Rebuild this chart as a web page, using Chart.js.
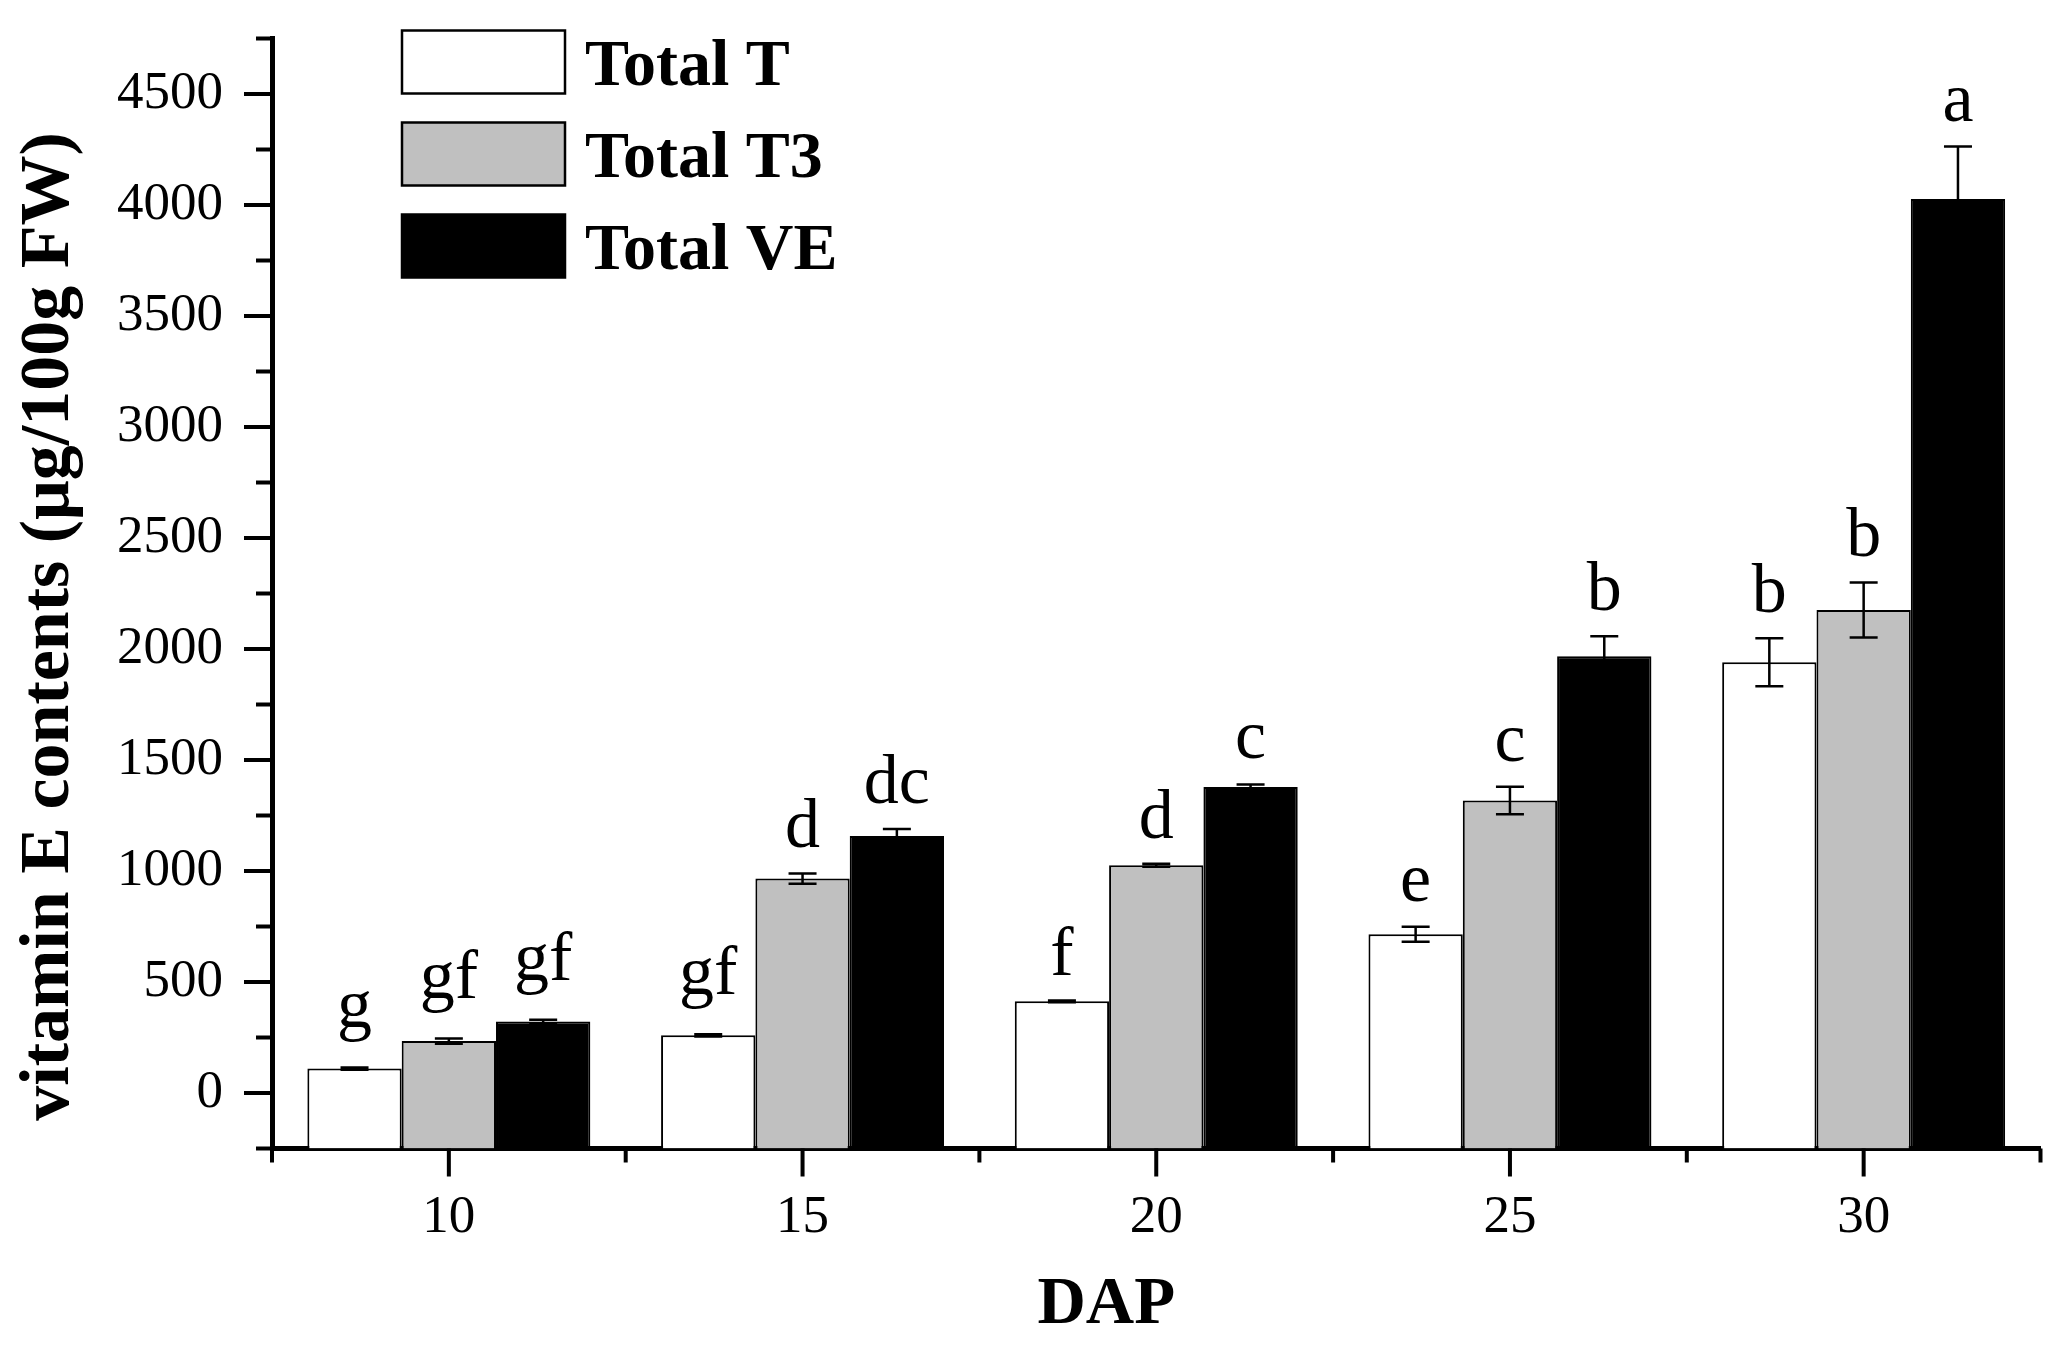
<!DOCTYPE html>
<html>
<head>
<meta charset="utf-8">
<title>Vitamin E contents by DAP</title>
<script src="https://cdn.jsdelivr.net/npm/chart.js@4.4.1/dist/chart.umd.min.js"></script>
<style>
  html, body { margin: 0; padding: 0; background: #fff; }
  canvas { display: block; }
</style>
</head>
<body>
<canvas id="ve-chart" width="2065" height="1352"></canvas>
<script>
// Data (µg/100g FW)
const DAP = ["10", "15", "20", "25", "30"];

const TOTAL_T = [110, 260, 413, 715, 1940];
const TOTAL_T_ERR = [5, 5, 4, 34, 108];
const TOTAL_T_LETTERS = ["g", "gf", "f", "e", "b"];

const TOTAL_T3 = [234, 966, 1026, 1318, 2176];
const TOTAL_T3_ERR = [12, 23, 7, 62, 124];
const TOTAL_T3_LETTERS = ["gf", "d", "d", "c", "b"];

const TOTAL_VE = [322, 1158, 1378, 1967, 4027];
const TOTAL_VE_ERR = [8, 31, 12, 90, 236];
const TOTAL_VE_LETTERS = ["gf", "dc", "c", "b", "a"];

const Y_MIN = -250;
const Y_MAX = 4750;
const Y_TICKS = [0, 500, 1000, 1500, 2000, 2500, 3000, 3500, 4000, 4500];

const SERIF = '"Liberation Serif", "Times New Roman", serif';

const SERIES = [
  { label: "Total T", fill: "#ffffff", values: TOTAL_T, errors: TOTAL_T_ERR, letters: TOTAL_T_LETTERS },
  { label: "Total T3", fill: "#c0c0c0", values: TOTAL_T3, errors: TOTAL_T3_ERR, letters: TOTAL_T3_LETTERS },
  { label: "Total VE", fill: "#000000", values: TOTAL_VE, errors: TOTAL_VE_ERR, letters: TOTAL_VE_LETTERS },
];

// Error bars, significance letters, tick marks, legend and axis titles
const figurePlugin = {
  id: "figureExtras",
  afterDatasetsDraw(chart) {
    const ctx = chart.ctx;
    const y = chart.scales.y;
    const cap = 14;

    ctx.save();
    ctx.strokeStyle = "#000";
    ctx.fillStyle = "#000";
    ctx.lineWidth = 2.5;
    ctx.font = `70px ${SERIF}`;
    ctx.textAlign = "center";
    ctx.textBaseline = "alphabetic";

    SERIES.forEach((s, di) => {
      chart.getDatasetMeta(di).data.forEach((bar, i) => {
        const yTop = y.getPixelForValue(s.values[i] + s.errors[i]);
        const yBot = y.getPixelForValue(s.values[i] - s.errors[i]);

        ctx.beginPath();
        ctx.moveTo(bar.x, yTop);
        ctx.lineTo(bar.x, yBot);
        ctx.moveTo(bar.x - cap, yTop);
        ctx.lineTo(bar.x + cap, yTop);
        ctx.moveTo(bar.x - cap, yBot);
        ctx.lineTo(bar.x + cap, yBot);
        ctx.stroke();

        const txt = s.letters[i];
        const m = ctx.measureText(txt);
        ctx.fillText(txt, bar.x, yTop - 25 - m.actualBoundingBoxDescent);
      });
    });
    ctx.restore();
  },

  afterDraw(chart) {
    const ctx = chart.ctx;
    const area = chart.chartArea;
    const x = chart.scales.x;
    const y = chart.scales.y;

    ctx.save();
    ctx.strokeStyle = "#000";
    ctx.fillStyle = "#000";
    ctx.lineWidth = 4;
    ctx.lineCap = "butt";

    // y ticks: major every 500, minor every 250, pointing out
    ctx.beginPath();
    for (let v = Y_MIN; v <= Y_MAX; v += 250) {
      const py = y.getPixelForValue(v);
      const len = v % 500 === 0 ? 28 : 16;
      ctx.moveTo(area.left, py);
      ctx.lineTo(area.left - len, py);
    }
    // x ticks: long at category centres, short at boundaries
    for (let i = 0; i <= DAP.length; i++) {
      const pb = x.getPixelForValue(i - 0.5);
      ctx.moveTo(pb, area.bottom);
      ctx.lineTo(pb, area.bottom + 14);
      if (i < DAP.length) {
        const pc = x.getPixelForValue(i);
        ctx.moveTo(pc, area.bottom);
        ctx.lineTo(pc, area.bottom + 28);
      }
    }
    ctx.stroke();

    // legend, top-left inside the plot
    const boxX = area.left + 130;
    const boxW = 163;
    const boxH = 63;
    ctx.font = `bold 66px ${SERIF}`;
    ctx.textAlign = "left";
    ctx.textBaseline = "alphabetic";
    ctx.lineWidth = 2.5;
    SERIES.forEach((s, i) => {
      const top = area.top - 8 + i * 92;
      ctx.fillStyle = s.fill;
      ctx.fillRect(boxX, top, boxW, boxH);
      ctx.strokeRect(boxX, top, boxW, boxH);
      ctx.fillStyle = "#000";
      ctx.fillText(s.label, boxX + boxW + 20, top + boxH / 2 + 22.5);
    });

    // axis titles
    ctx.textAlign = "center";
    ctx.font = `bold 67px ${SERIF}`;
    ctx.fillText("DAP", (area.left + area.right) / 2 - 50, area.bottom + 174);

    ctx.save();
    ctx.font = `bold 70px ${SERIF}`;
    ctx.translate(area.left - 204, (area.top + area.bottom) / 2 + 33);
    ctx.rotate(-Math.PI / 2);
    ctx.fillText("vitamin E contents (\u03bcg/100g FW)", 0, 0);
    ctx.restore();

    ctx.restore();
  },
};

const datasets = SERIES.map((s) => ({
  label: s.label,
  data: s.values,
  backgroundColor: s.fill,
  borderColor: "#000",
  borderWidth: 2,
  base: Y_MIN,
  categoryPercentage: 0.8,
  barPercentage: 1.0,
}));

// keep the plot box where the figure has it: no extra label overhang padding
function noOverhang(scale) {
  scale.paddingTop = 0;
  scale.paddingBottom = 0;
  scale.paddingLeft = 0;
  scale.paddingRight = 0;
}

Chart.defaults.font.family = SERIF;
Chart.defaults.color = "#000";

new Chart(document.getElementById("ve-chart"), {
  type: "bar",
  data: { labels: DAP, datasets },
  options: {
    responsive: false,
    animation: false,
    events: [],
    layout: { padding: { left: 0, top: 38.5, right: 24.5, bottom: 0 } },
    plugins: {
      legend: { display: false },
      title: { display: false },
      tooltip: { enabled: false },
    },
    scales: {
      x: {
        type: "category",
        offset: true,
        grid: { display: false, drawTicks: false },
        border: { display: true, color: "#000", width: 5 },
        ticks: { font: { size: 53 }, color: "#000", padding: 38 },
        afterFit: (scale) => {
          scale.height = 203.5;
          noOverhang(scale);
        },
      },
      y: {
        type: "linear",
        min: Y_MIN,
        max: Y_MAX,
        grid: { display: false, drawTicks: false },
        border: { display: true, color: "#000", width: 5 },
        ticks: {
          font: { size: 53 },
          color: "#000",
          padding: 49,
          callback: (v) => String(v),
        },
        afterBuildTicks: (scale) => { scale.ticks = Y_TICKS.map((v) => ({ value: v })); },
        afterFit: (scale) => {
          scale.width = 272;
          noOverhang(scale);
        },
      },
    },
  },
  plugins: [figurePlugin],
});
</script>
</body>
</html>
